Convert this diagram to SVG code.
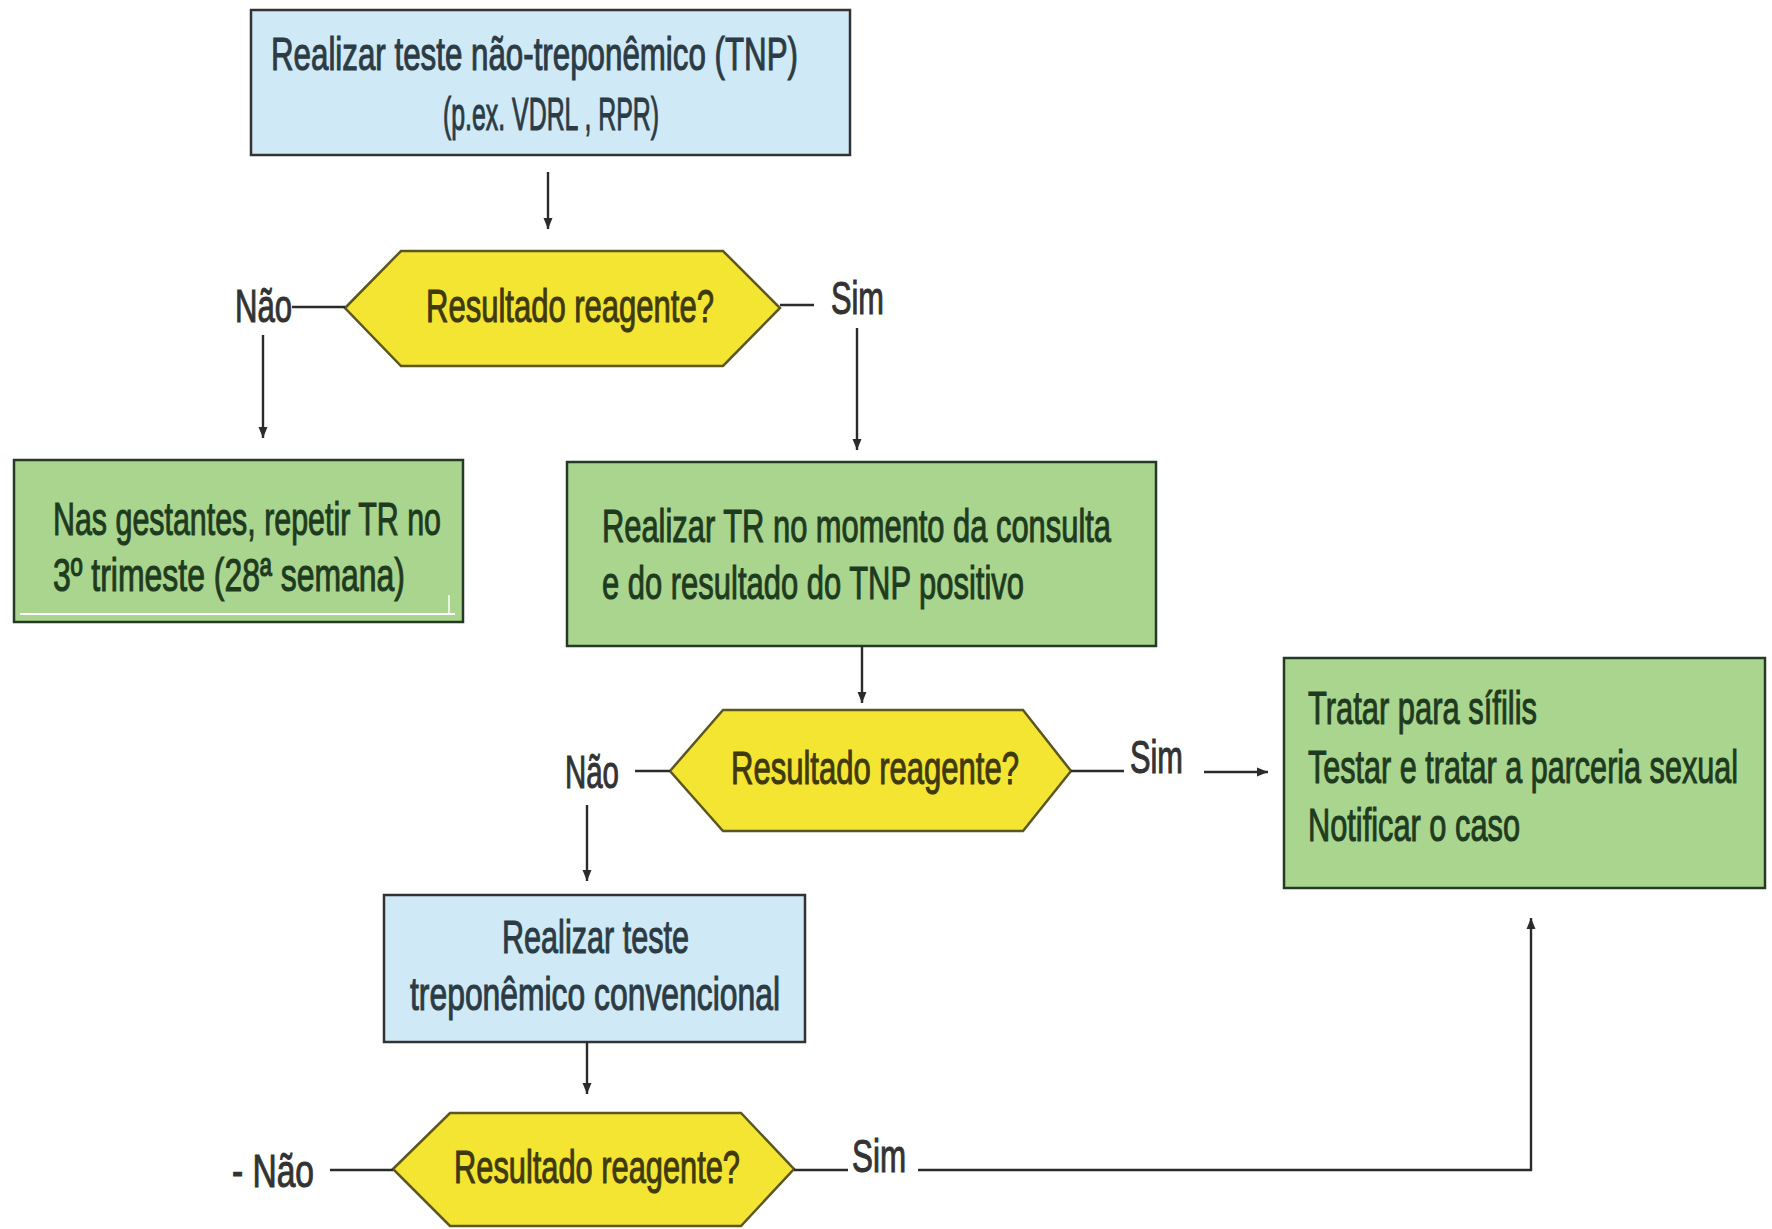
<svg xmlns="http://www.w3.org/2000/svg" width="1772" height="1229" viewBox="0 0 1772 1229">
<defs>
<marker id="ah" markerWidth="12" markerHeight="12" refX="11" refY="6" orient="auto" markerUnits="userSpaceOnUse">
<path d="M0,1.5 L11,6 L0,10.5 Z" fill="#2b2b2b"/>
</marker>
<style>
.t{font-family:"Liberation Sans","DejaVu Sans",sans-serif;font-size:47px;stroke-width:1.1px;}
.blue{fill:#cfe9f7;stroke:#333;stroke-width:2.5;}
.green{fill:#a9d58e;stroke:#253a25;stroke-width:2.5;}
.hex{fill:#f4e532;stroke:#5c5620;stroke-width:2.5;}
.tb{fill:#2c3b44;stroke:#2c3b44;}
.tg{fill:#1f3b1f;stroke:#1f3b1f;}
.ty{fill:#3f3a0e;stroke:#3f3a0e;}
.tl{fill:#333;stroke:#333;}
.c{fill:none;stroke:#2b2b2b;stroke-width:2.4;}
</style>
</defs>
<rect width="1772" height="1229" fill="#fff"/>

<g id="n1">
<rect class="blue" x="251" y="10" width="599" height="145"/>
<text class="t tb" x="271" y="70" textLength="527" lengthAdjust="spacingAndGlyphs">Realizar teste não-treponêmico (TNP)</text>
<text class="t tb" x="443" y="130" textLength="216" lengthAdjust="spacingAndGlyphs">(p.ex. VDRL , RPR)</text>
</g>

<g id="d1">
<polygon class="hex" points="345,308 401,251 723,251 780,308 723,366 401,366"/>
<text class="t ty" x="426" y="322" textLength="288" lengthAdjust="spacingAndGlyphs">Resultado reagente?</text>
</g>

<g id="n2">
<rect class="green" x="14" y="460" width="449" height="162"/>
<line x1="20" y1="614" x2="455" y2="614" stroke="#ffffff" stroke-width="2"/>
<line x1="449" y1="595" x2="449" y2="614" stroke="#ffffff" stroke-width="1.5"/>
<text class="t tg" x="53" y="535" textLength="388" lengthAdjust="spacingAndGlyphs">Nas gestantes, repetir TR no</text>
<text class="t tg" x="53" y="591" textLength="352" lengthAdjust="spacingAndGlyphs">3º trimeste (28ª semana)</text>
</g>

<g id="n3">
<rect class="green" x="567" y="462" width="589" height="184"/>
<text class="t tg" x="602" y="542" textLength="509" lengthAdjust="spacingAndGlyphs">Realizar TR no momento da consulta</text>
<text class="t tg" x="602" y="599" textLength="422" lengthAdjust="spacingAndGlyphs">e do resultado do TNP positivo</text>
</g>

<g id="d2">
<polygon class="hex" points="670,771 723,710 1023,710 1071,771 1023,831 723,831"/>
<text class="t ty" x="731" y="784" textLength="288" lengthAdjust="spacingAndGlyphs">Resultado reagente?</text>
</g>

<g id="n4">
<rect class="green" x="1284" y="658" width="481" height="230"/>
<text class="t tg" x="1308" y="724" textLength="229" lengthAdjust="spacingAndGlyphs">Tratar para sífilis</text>
<text class="t tg" x="1308" y="783" textLength="430" lengthAdjust="spacingAndGlyphs">Testar e tratar a parceria sexual</text>
<text class="t tg" x="1308" y="841" textLength="212" lengthAdjust="spacingAndGlyphs">Notificar o caso</text>
</g>

<g id="n5">
<rect class="blue" x="384" y="895" width="421" height="147"/>
<text class="t tb" x="502" y="953" textLength="187" lengthAdjust="spacingAndGlyphs">Realizar teste</text>
<text class="t tb" x="410" y="1010" textLength="370" lengthAdjust="spacingAndGlyphs">treponêmico convencional</text>
</g>

<g id="d3">
<polygon class="hex" points="393,1169 450,1113 741,1113 794,1169 741,1226 450,1226"/>
<text class="t ty" x="454" y="1183" textLength="286" lengthAdjust="spacingAndGlyphs">Resultado reagente?</text>
</g>

<g id="labels">
<text class="t tl" x="235" y="322" textLength="57" lengthAdjust="spacingAndGlyphs">Não</text>
<text class="t tl" x="831" y="314" textLength="53" lengthAdjust="spacingAndGlyphs">Sim</text>
<text class="t tl" x="565" y="788" textLength="54" lengthAdjust="spacingAndGlyphs">Não</text>
<text class="t tl" x="1130" y="773" textLength="53" lengthAdjust="spacingAndGlyphs">Sim</text>
<text class="t tl" x="232" y="1187" textLength="82" lengthAdjust="spacingAndGlyphs">- Não</text>
<text class="t tl" x="852" y="1172" textLength="54" lengthAdjust="spacingAndGlyphs">Sim</text>
</g>

<g id="connectors">
<line class="c" x1="548" y1="172" x2="548" y2="229" marker-end="url(#ah)"/>
<line class="c" x1="292" y1="307" x2="345" y2="307"/>
<line class="c" x1="263" y1="335" x2="263" y2="438" marker-end="url(#ah)"/>
<line class="c" x1="780" y1="305" x2="814" y2="305"/>
<line class="c" x1="857" y1="328" x2="857" y2="450" marker-end="url(#ah)"/>
<line class="c" x1="862" y1="646" x2="862" y2="703" marker-end="url(#ah)"/>
<line class="c" x1="635" y1="771" x2="670" y2="771"/>
<line class="c" x1="587" y1="805" x2="587" y2="881" marker-end="url(#ah)"/>
<line class="c" x1="1071" y1="771" x2="1124" y2="771"/>
<line class="c" x1="1204" y1="772" x2="1268" y2="772" marker-end="url(#ah)"/>
<line class="c" x1="587" y1="1042" x2="587" y2="1094" marker-end="url(#ah)"/>
<line class="c" x1="330" y1="1170" x2="393" y2="1170"/>
<line class="c" x1="794" y1="1170" x2="848" y2="1170"/>
<polyline class="c" points="918,1170 1531,1170 1531,918" marker-end="url(#ah)"/>
</g>
</svg>
